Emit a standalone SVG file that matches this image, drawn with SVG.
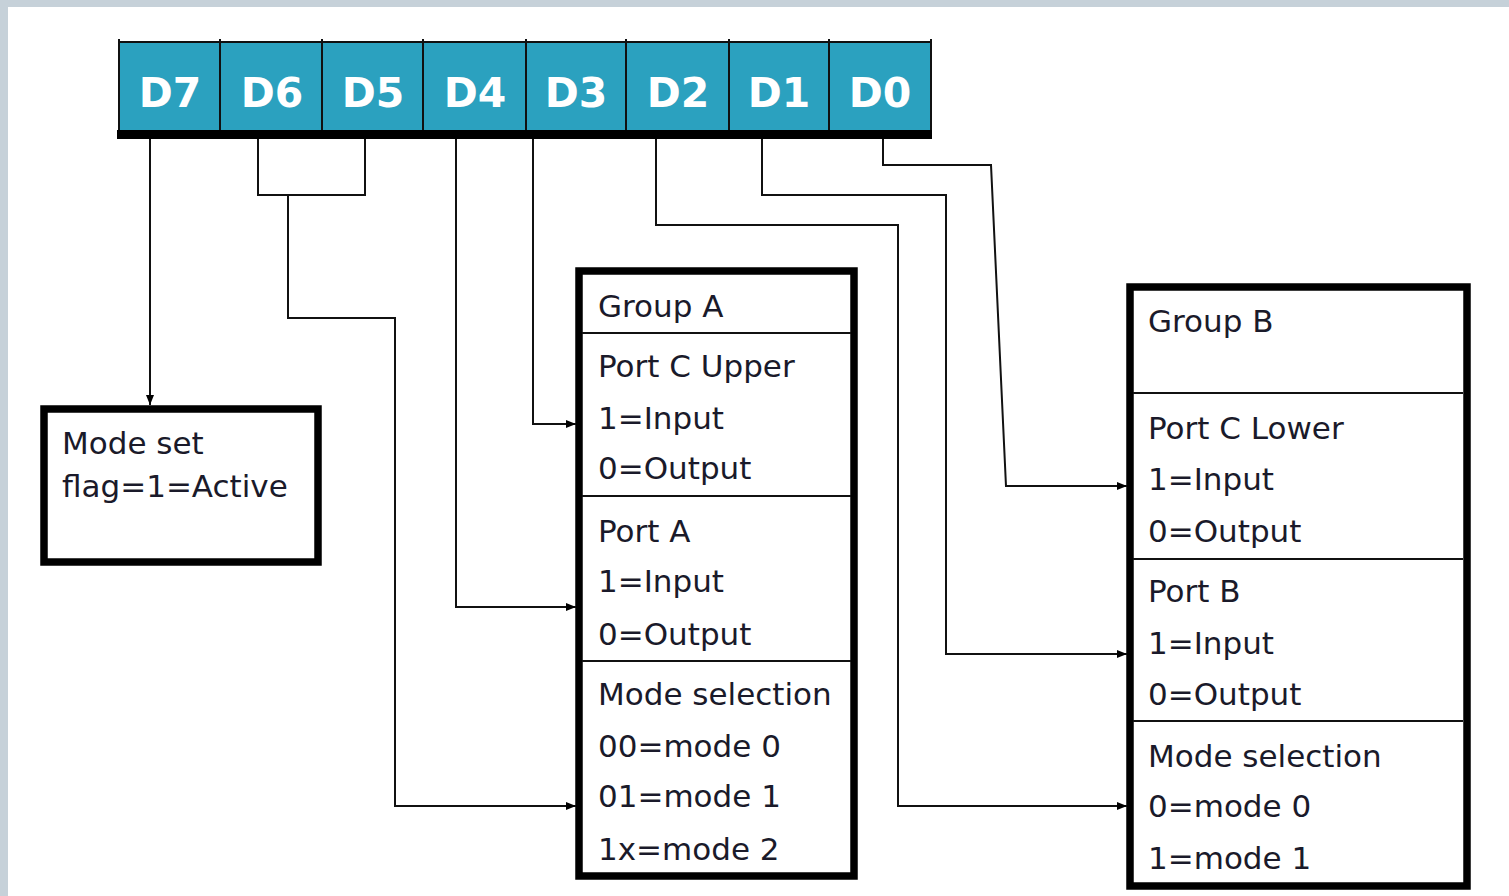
<svg xmlns="http://www.w3.org/2000/svg" width="1509" height="896" viewBox="0 0 1509 896">
<defs>
<marker id="ah" viewBox="0 0 10 8" refX="10" refY="4" markerWidth="10" markerHeight="8" markerUnits="userSpaceOnUse" orient="auto">
<path d="M0,0 L10,4 L0,8 Z" fill="#000"/>
</marker>
<style>
.bg{fill:#c6d1d9}
.cell{fill:#2ba1bf;stroke:#111;stroke-width:2}
.bit{font-family:"DejaVu Sans",Verdana,sans-serif;font-weight:bold;font-size:41px;fill:#fff;text-anchor:middle}
.box{fill:#fff;stroke:#000;stroke-width:7.5}
.div{stroke:#111;stroke-width:2}
.t{font-family:"DejaVu Sans",Verdana,sans-serif;font-size:31px;fill:#1a1a2a}
.c{fill:none;stroke:#111;stroke-width:2}
</style>
</defs>
<rect width="1509" height="896" fill="#fff"/>
<rect class="bg" x="0" y="0" width="1509" height="7"/>
<rect class="bg" x="0" y="0" width="8" height="896"/>

<g id="register">
<rect class="cell" x="119" y="42" width="101" height="89"/>
<rect class="cell" x="220" y="42" width="102" height="89"/>
<rect class="cell" x="322" y="42" width="101" height="89"/>
<rect class="cell" x="423" y="42" width="103" height="89"/>
<rect class="cell" x="526" y="42" width="100" height="89"/>
<rect class="cell" x="626" y="42" width="103" height="89"/>
<rect class="cell" x="729" y="42" width="100" height="89"/>
<rect class="cell" x="829" y="42" width="102" height="89"/>
<path d="M119,39V43M220,39V43M322,39V43M423,39V43M526,39V43M626,39V43M729,39V43M829,39V43M931,39V43" stroke="#111" stroke-width="2"/>
<rect x="117" y="130" width="815" height="9" fill="#000"/>
<text class="bit" x="170" y="107">D7</text>
<text class="bit" x="272" y="107">D6</text>
<text class="bit" x="373" y="107">D5</text>
<text class="bit" x="475" y="107">D4</text>
<text class="bit" x="576" y="107">D3</text>
<text class="bit" x="678" y="107">D2</text>
<text class="bit" x="779" y="107">D1</text>
<text class="bit" x="880" y="107">D0</text>
</g>

<g id="modeset">
<rect class="box" x="44" y="409" width="274" height="153"/>
<text class="t" x="62" y="454">Mode set</text>
<text class="t" x="62" y="497">flag=1=Active</text>
</g>

<g id="groupA">
<rect class="box" x="579" y="271" width="275" height="605"/>
<line class="div" x1="582" y1="333" x2="851" y2="333"/>
<line class="div" x1="582" y1="496" x2="851" y2="496"/>
<line class="div" x1="582" y1="661" x2="851" y2="661"/>
<text class="t" x="598" y="317">Group A</text>
<text class="t" x="598" y="377">Port C Upper</text>
<text class="t" x="598" y="429">1=Input</text>
<text class="t" x="598" y="479">0=Output</text>
<text class="t" x="598" y="542">Port A</text>
<text class="t" x="598" y="592">1=Input</text>
<text class="t" x="598" y="645">0=Output</text>
<text class="t" x="598" y="705">Mode selection</text>
<text class="t" x="598" y="757">00=mode 0</text>
<text class="t" x="598" y="807">01=mode 1</text>
<text class="t" x="598" y="860">1x=mode 2</text>
</g>

<g id="groupB">
<rect class="box" x="1130" y="287" width="337" height="599"/>
<line class="div" x1="1133" y1="393" x2="1463" y2="393"/>
<line class="div" x1="1133" y1="559" x2="1463" y2="559"/>
<line class="div" x1="1133" y1="721" x2="1463" y2="721"/>
<text class="t" x="1148" y="332">Group B</text>
<text class="t" x="1148" y="439">Port C Lower</text>
<text class="t" x="1148" y="490">1=Input</text>
<text class="t" x="1148" y="542">0=Output</text>
<text class="t" x="1148" y="602">Port B</text>
<text class="t" x="1148" y="654">1=Input</text>
<text class="t" x="1148" y="705">0=Output</text>
<text class="t" x="1148" y="767">Mode selection</text>
<text class="t" x="1148" y="817">0=mode 0</text>
<text class="t" x="1148" y="869">1=mode 1</text>
</g>

<g id="connectors">
<path class="c" d="M150,139 V405" marker-end="url(#ah)"/>
<path class="c" d="M258,139 V195 H365 V139"/>
<path class="c" d="M288,195 V318 H395 V806 H576" marker-end="url(#ah)"/>
<path class="c" d="M456,139 V607 H576" marker-end="url(#ah)"/>
<path class="c" d="M533,139 V424 H576" marker-end="url(#ah)"/>
<path class="c" d="M656,139 V225 H898 V806 H1127" marker-end="url(#ah)"/>
<path class="c" d="M762,139 V195 H946 V654 H1127" marker-end="url(#ah)"/>
<path class="c" d="M883,139 V165 H991 L1006,486 H1127" marker-end="url(#ah)"/>
</g>
</svg>
